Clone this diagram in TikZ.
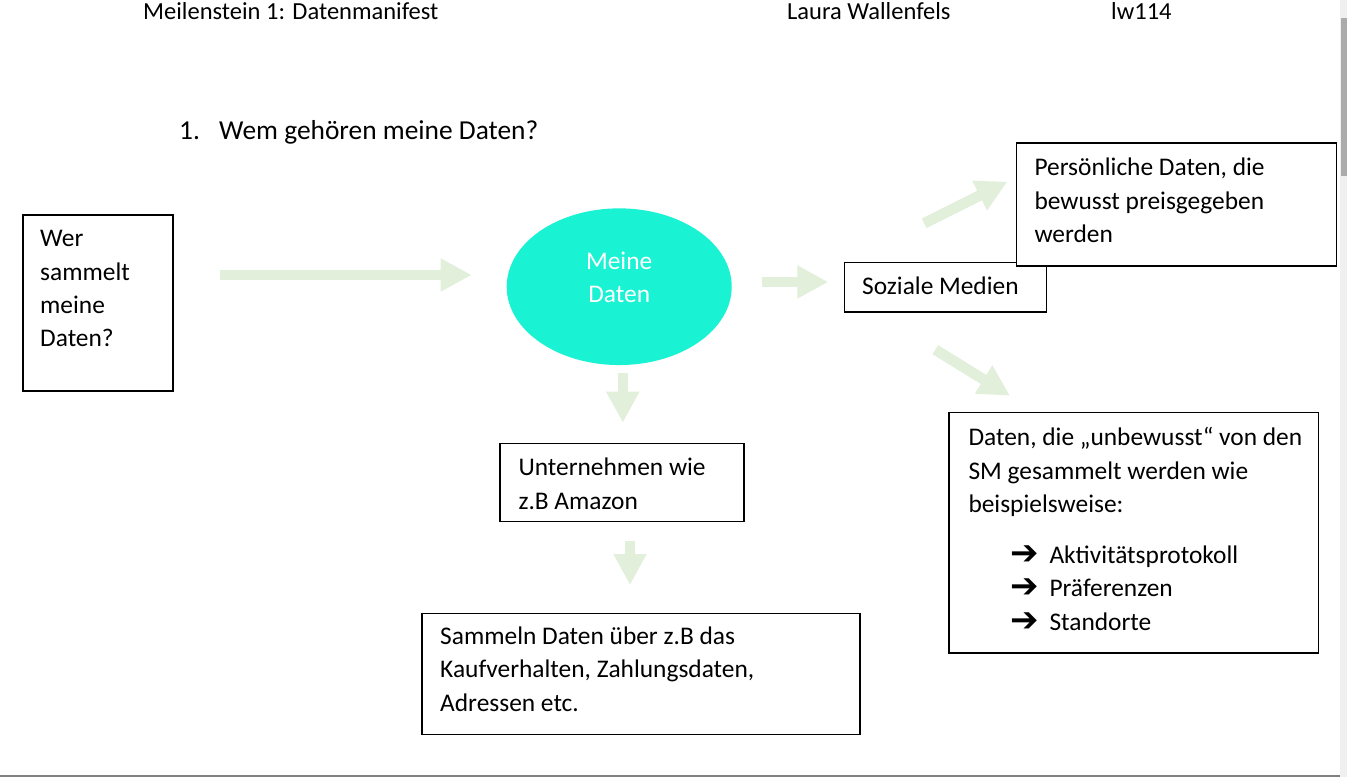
\documentclass[tikz,border=0pt]{standalone}
\usepackage{fontspec}
\setmainfont{Carlito}
\newfontfamily\dejavu{DejaVu Sans}
\usetikzlibrary{arrows.meta,shapes.geometric}
\definecolor{arrowgreen}{RGB}{226,239,218}
\definecolor{turq}{RGB}{26,242,212}
\definecolor{scrolltrack}{RGB}{240,240,240}
\definecolor{scrollthumb}{RGB}{171,171,171}
\definecolor{bottomline}{RGB}{128,128,128}
\newcommand{\bularrow}{\makebox[39.3pt][l]{\dejavu\fontsize{34}{34}\selectfont\raisebox{-1pt}{➔}}}
\begin{document}
\begin{tikzpicture}[x=1pt,y=-1pt,
  box/.style={draw=black, line width=1.3pt, fill=white, anchor=north west, inner sep=0pt},
  txt/.style={anchor=base west, inner sep=0pt, align=flush left, font=\fontsize{25.4}{33.4}\selectfont\frenchspacing},
  hdr/.style={anchor=base west, inner sep=0pt, font=\fontsize{24.5}{28}\selectfont},
  ttl/.style={anchor=base west, inner sep=0pt, font=\fontsize{27.4}{30}\selectfont},
  blockarrow/.style={draw=arrowgreen, line width=10.6pt, -{Triangle[length=31pt,width=31pt]}},
]
\useasboundingbox (0,0) rectangle (1347,777);
\fill[white] (0,0) rectangle (1347,777);

% header
\node[hdr] (h1) at (143,19.3) {Meilenstein 1: Datenmanifest};
\node[hdr] (h2) at (787,19.3) {Laura Wallenfels};
\node[hdr] (h3) at (1111,19.3) {lw114};

% title
\node[ttl] (tnum) at (179,139) {1.};
\node[ttl] (ttext) at (219,139) {Wem gehören meine Daten?};

% boxes
\node[box, minimum width=150pt, minimum height=176pt] (wer) at (22.3,214.3) {};
\node[box, minimum width=201.7pt, minimum height=49.8pt] (soz) at (844,261.5) {};
\node[box, minimum width=319.7pt, minimum height=123pt] (pers) at (1016,142.3) {};
\node[box, minimum width=244pt, minimum height=78.3pt] (unt) at (499.3,442.7) {};
\node[box, minimum width=438pt, minimum height=121.3pt] (samm) at (421.3,612.7) {};
\node[box, minimum width=369.4pt, minimum height=240.6pt] (unb) at (948.3,411.7) {};

% ellipse
\node[ellipse, fill=turq, draw=none, minimum width=225pt, minimum height=156.7pt, inner sep=0pt] (daten) at (619.2,286.7) {};

% texts
\node[txt, text width=120pt] (wertxt) at (40,246.7) {Wer\\sammelt\\meine\\Daten?};
\node[txt, text width=180pt] (soztxt) at (862,294.3) {Soziale Medien};
\node[txt, text width=290pt] (perstxt) at (1034.3,175.7) {Persönliche Daten, die\\bewusst preisgegeben\\werden};
\node[txt, text width=220pt] (unttxt) at (518.3,475.7) {Unternehmen wie\\z.B Amazon};
\node[txt, text width=400pt] (sammtxt) at (440,644.3) {Sammeln Daten über z.B das\\Kaufverhalten, Zahlungsdaten,\\Adressen etc.};
\node[txt, text width=345pt] (unbtxt) at (968.3,445.7) {Daten, die „unbewusst“ von den\\SM gesammelt werden wie\\beispielsweise:};
\node[txt, text width=300pt] (unblist) at (1010,563.3) {\bularrow Aktivitätsprotokoll\\\bularrow Präferenzen\\\bularrow Standorte};
\node[txt, text width=150pt, align=center, anchor=base, text=white] (datentxt) at (619.2,269) {Meine\\Daten};

% arrows
\coordinate (a1s) at (220,275);   \coordinate (a1e) at (471.7,275);
\coordinate (a2s) at (761.7,282); \coordinate (a2e) at (828.3,282);
\coordinate (a3s) at (622.8,373.3); \coordinate (a3e) at (622.8,422.7);
\coordinate (a4s) at (630,541);   \coordinate (a4e) at (630,585);
\coordinate (a5s) at (924.2,223.3); \coordinate (a5e) at (1007.3,181.7);
\coordinate (a6s) at (935.3,349.7); \coordinate (a6e) at (1010,395.7);
\draw[blockarrow] (a1s) -- (a1e);
\draw[blockarrow] (a2s) -- (a2e);
\draw[blockarrow] (a3s) -- (a3e);
\draw[blockarrow] (a4s) -- (a4e);
\draw[blockarrow] (a5s) -- (a5e);
\draw[blockarrow] (a6s) -- (a6e);

% window chrome
\fill[scrolltrack] (1340,0) rectangle (1347,777);
\fill[scrollthumb] (1341,18.3) rectangle (1347,175.7);
\draw[bottomline, line width=1.5pt] (0,776) -- (1340,776);
\end{tikzpicture}
\end{document}
